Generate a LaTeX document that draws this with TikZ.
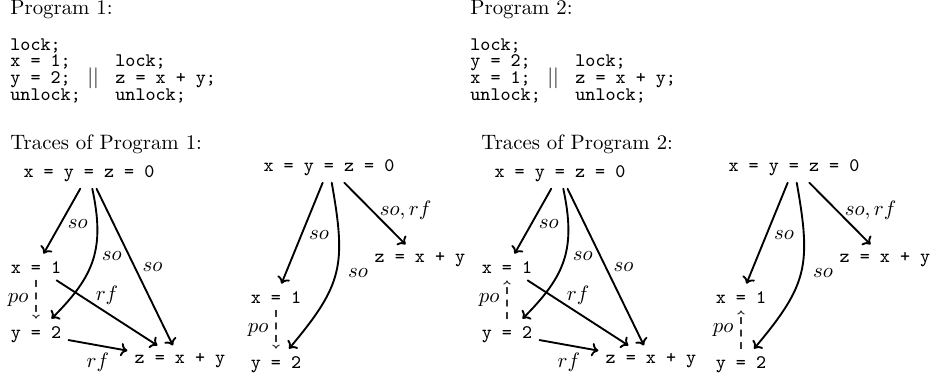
\documentclass[tikz,border=0pt]{standalone}
\usetikzlibrary{arrows.meta}
\newcommand{\evfont}{\fontsize{9.2}{11}\selectfont\ttfamily}

\begin{document}
\begin{tikzpicture}[x=0.48pt, y=-0.48pt, line cap=round,
  ev/.style={font=\evfont, anchor=base},
  code/.style={font=\evfont, anchor=base west, inner sep=0pt},
  title/.style={anchor=base west, inner sep=0pt},
  so/.style={-{To[length=3.2pt, width=6.4pt]}, line width=0.9pt},
  po/.style={-{To[length=2pt, width=3.6pt]}, line width=0.5pt, dashed, draw=black!80}]
  \useasboundingbox (0,0) rectangle (933,379);

  % the two programs
  \foreach \k/\dx/\a/\b in {1/0/{x = 1;}/{y = 2;}, 2/460/{y = 2;}/{x = 1;}} {
    \node[title] (prog\k) at (10+\dx,14) {Program \k:};
    \node[code] (lk\k) at (10+\dx,50) {lock;};
    \node[code] (a\k) at (10+\dx,66) {\a};
    \node[code] (b\k) at (10+\dx,83) {\b};
    \node[code] (ul\k) at (10+\dx,100) {unlock;};
    \node[code] (lkb\k) at (115+\dx,66) {lock;};
    \node[title] (par\k) at (87+\dx,83) {$||$};
    \node[code] (zz\k) at (115+\dx,83) {z = x + y;};
    \node[code] (ulb\k) at (115+\dx,100) {unlock;};
  }

  % the traces
  \foreach \k/\dl/\dr/\pa/\pb in {1/0/0/x/y, 2/471/465/y/x} {
    \node[title] (tr\k) at (10+\dl,149) {Traces of Program \k:};

    \node[ev] (i\k) at (89+\dl,177) {x = y = z = 0};
    \node[ev] (x\k) at (36+\dl,273) {x = 1};
    \node[ev] (y\k) at (36+\dl,338) {y = 2};
    \node[ev] (z\k) at (180+\dl,363) {z = x + y};
    \draw[so] (i\k) -- node[pos=.55, right] {$so$} (x\k);
    \draw[so] (i\k) to[out=-78, in=45, looseness=1.15] node[pos=.47, right] {$so$} (y\k);
    \draw[so] (i\k) -- node[pos=.5, right] {$so$} (z\k);
    \draw[so] (x\k) -- node[pos=.5, above] {$rf$} (z\k);
    \draw[so] (y\k) -- node[pos=.5, below] {$rf$} (z\k);
    \draw[po] (\pa\k) -- node[left] {$po$} (\pb\k);

    \node[ev] (ri\k) at (329+\dr,171) {x = y = z = 0};
    \node[ev] (rz\k) at (420+\dr,262) {z = x + y};
    \node[ev] (rx\k) at (276+\dr,303) {x = 1};
    \node[ev] (ry\k) at (276+\dr,368) {y = 2};
    \draw[so] (ri\k) -- node[pos=.52, right] {$so$} (rx\k);
    \draw[so] (ri\k) to[out=-80, in=50, looseness=1.25] node[pos=.5, right, xshift=2pt] {$so$} (ry\k);
    \draw[so] (ri\k) -- node[pos=.45, right] {$so, rf$} (rz\k);
    \draw[po] (r\pa\k) -- node[left] {$po$} (r\pb\k);
  }
\end{tikzpicture}
\end{document}
